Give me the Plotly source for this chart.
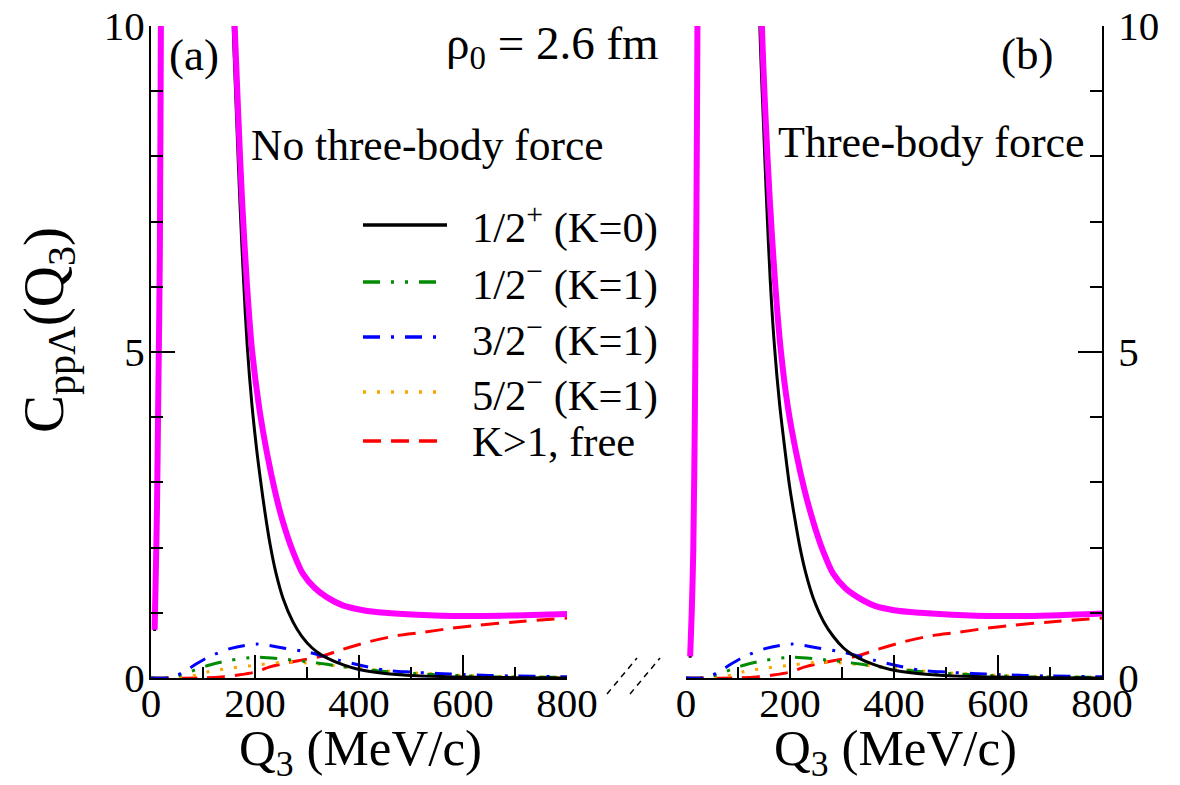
import plotly.graph_objects as go

W, H = 1180, 785

# ---------------- data ----------------
# panel (a): no three-body force
q_tot_a = [7, 9, 11.5, 14, 17, 19, 22, 30, 60, 100, 140, 161, 168, 175, 184, 194, 208, 223, 238, 252, 263, 273, 292, 315, 338, 370, 408, 450, 512, 600, 700, 800]
c_tot_a = [0.74, 1.5, 2.6, 4.3, 6.5, 10, 15, 25, 45, 35, 16, 10, 8.6, 7.35, 6.1, 5.05, 4.15, 3.45, 2.88, 2.44, 2.16, 1.94, 1.6, 1.38, 1.24, 1.11, 1.04, 1.0, 0.97, 0.95, 0.96, 0.98]
q_k0_a = [7, 9, 11.5, 14, 17, 19, 22, 30, 60, 100, 140, 158, 165, 171, 178, 185, 194, 204, 212, 219, 229, 240, 254, 273, 290, 310, 325, 338, 370, 400, 450, 500, 600, 700, 800]
c_k0_a = [0.72, 1.45, 2.55, 4.2, 6.4, 9.8, 14.8, 25, 45, 35, 16.5, 10, 8.5, 7.3, 6.1, 5.1, 4.2, 3.45, 2.95, 2.55, 2.05, 1.62, 1.22, 0.86, 0.64, 0.46, 0.37, 0.31, 0.2, 0.13, 0.07, 0.04, 0.015, 0.005, 0.0]

# panel (b): three-body force
q_tot_b = [8, 11, 14, 17, 20, 22, 26, 40, 80, 120, 146, 153, 161, 171, 182, 196, 212, 228, 243, 254, 264, 283, 306, 330, 362, 400, 450, 512, 600, 700, 800]
c_tot_b = [0.33, 1.0, 1.96, 4.0, 7.0, 10, 16, 30, 40, 20, 10, 8.6, 7.35, 6.1, 5.05, 4.15, 3.45, 2.88, 2.44, 2.16, 1.94, 1.6, 1.38, 1.24, 1.11, 1.04, 1.0, 0.97, 0.95, 0.96, 0.99]
q_k0_b = [8, 11, 14, 17, 20, 22, 26, 40, 80, 120, 142, 149, 155, 162, 170, 180, 191, 199, 207, 218, 230, 245, 265, 283, 303, 318, 331, 363, 393, 445, 495, 600, 700, 800]
c_k0_b = [0.31, 0.97, 1.9, 3.9, 6.9, 9.8, 15.8, 30, 40, 20, 10, 8.5, 7.3, 6.1, 5.1, 4.2, 3.45, 2.95, 2.55, 2.05, 1.62, 1.22, 0.86, 0.64, 0.46, 0.37, 0.31, 0.2, 0.13, 0.07, 0.04, 0.014, 0.004, 0.0]

# K=1 and K>1 components (same in both panels)
q_c = [0, 30, 50, 70, 90, 113, 152, 204, 254, 300, 338, 363, 400, 450, 500, 550, 600, 650, 700, 800]
c_half_m = [0, 0, 0.03, 0.08, 0.14, 0.2, 0.27, 0.32, 0.29, 0.25, 0.21, 0.18, 0.14, 0.1, 0.07, 0.05, 0.035, 0.02, 0.015, 0.01]
c_3half_m = [0, 0, 0.04, 0.13, 0.23, 0.33, 0.45, 0.52, 0.46, 0.4, 0.32, 0.27, 0.2, 0.12, 0.09, 0.07, 0.055, 0.04, 0.03, 0.02]
c_5half_m = [0, 0, 0.0, 0.02, 0.05, 0.1, 0.15, 0.2, 0.24, 0.23, 0.2, 0.18, 0.15, 0.11, 0.08, 0.06, 0.04, 0.03, 0.02, 0.01]
q_free = [0, 100, 140, 171, 200, 229, 261, 300, 331, 369, 421, 473, 523, 575, 630, 700, 800]
c_free = [0, 0.0, 0.02, 0.05, 0.09, 0.17, 0.23, 0.29, 0.34, 0.44, 0.56, 0.65, 0.7, 0.76, 0.81, 0.86, 0.92]

legend_labels = ["1/2<sup>+</sup> (K=0)", "1/2<sup>\u2212</sup> (K=1)", "3/2<sup>\u2212</sup> (K=1)",
                 "5/2<sup>\u2212</sup> (K=1)", "K>1, free"]
x_ticks = [0, 200, 400, 600, 800]
y_ticks = [0, 5, 10]

# ---------------- styles ----------------
FONT = "Times New Roman, Liberation Serif, Tinos, serif"
MAG = "#ff00ff"
styles = [  # colour, dash
    ("#000000", "solid"),
    ("#008b00", "17px,11px,3px,11px,3px,11px"),
    ("#0000ff", "17px,11px,3px,11px"),
    ("#ffa500", "3px,11px"),
    ("#ff0000", "18px,10px"),
]

def px(x):
    return x / W

def py(y):
    return 1 - y / H

fig = go.Figure()

def add_panel(xa, ya, q_tot, c_tot, q_k0, c_k0):
    comps = [(q_free, c_free, 4), (q_c, c_5half_m, 3), (q_c, c_half_m, 1), (q_c, c_3half_m, 2)]
    for qq, cc, i in comps:
        fig.add_trace(go.Scatter(x=qq, y=cc, mode="lines", xaxis=xa, yaxis=ya,
                                 line=dict(color=styles[i][0], dash=styles[i][1], width=3,
                                           shape="spline", smoothing=0.8),
                                 showlegend=False, hoverinfo="skip"))
    fig.add_trace(go.Scatter(x=q_k0, y=c_k0, mode="lines", xaxis=xa, yaxis=ya,
                             line=dict(color="#000000", width=3, shape="spline", smoothing=0.8),
                             showlegend=False))
    fig.add_trace(go.Scatter(x=q_tot, y=c_tot, mode="lines", xaxis=xa, yaxis=ya,
                             line=dict(color=MAG, width=6, shape="spline", smoothing=0.8),
                             showlegend=False))

add_panel("x", "y", q_tot_a, c_tot_a, q_k0_a, c_k0_a)
add_panel("x2", "y2", q_tot_b, c_tot_b, q_k0_b, c_k0_b)

ax_common = dict(showline=True, linecolor="black", linewidth=2, ticks="inside",
                 tickcolor="black", tickwidth=2, showgrid=False, zeroline=False,
                 automargin=False,
                 tickfont=dict(family=FONT, size=41, color="black"))
xcommon = dict(ax_common, range=[0, 800], tickvals=x_ticks, ticklen=23, ticklabelstandoff=-12,
               minor=dict(dtick=100, ticks="inside", ticklen=11, tickwidth=2, tickcolor="black", showgrid=False))
ycommon = dict(ax_common, range=[0, 10], tickvals=y_ticks, ticklen=24,
               minor=dict(dtick=1, ticks="inside", ticklen=12, tickwidth=2, tickcolor="black", showgrid=False))

fig.update_layout(
    template="none",
    width=W, height=H, margin=dict(l=0, r=0, t=0, b=0, pad=0, autoexpand=False),
    font=dict(family=FONT, color="black"),
    paper_bgcolor="white", plot_bgcolor="white", showlegend=False,
    xaxis=dict(xcommon, domain=[px(151), px(567)], anchor="y"),
    yaxis=dict(ycommon, domain=[py(678), py(26)], anchor="x", ticklabelstandoff=-4),
    xaxis2=dict(xcommon, domain=[px(686), px(1102)], anchor="y2"),
    yaxis2=dict(ycommon, domain=[py(678), py(26)], anchor="x2", side="right", ticklabelstandoff=6),
)

shapes = []
annotations = []
# legend (manual)
leg_y = [225, 282, 337, 392, 441]
for (col, dash), yy, lab in zip(styles, leg_y, legend_labels):
    shapes.append(dict(type="line", xref="paper", yref="paper", x0=px(363), x1=px(447),
                       y0=py(yy), y1=py(yy), line=dict(color=col, dash=dash, width=3.5)))
    annotations.append(dict(xref="paper", yref="paper", x=px(470), y=py(yy), text=lab,
                            showarrow=False, xanchor="left", yanchor="middle",
                            font=dict(family=FONT, size=42.5, color="black")))

# axis break marks
for x0 in (607, 630):
    shapes.append(dict(type="line", xref="paper", yref="paper", x0=px(x0), x1=px(x0 + 30),
                       y0=py(694), y1=py(658), line=dict(color="black", width=1.5, dash="6px,5px")))

def note(x, y, text, size=42, anchor="center", angle=0):
    annotations.append(dict(xref="paper", yref="paper", x=px(x), y=py(y), text=text,
                            showarrow=False, xanchor=anchor, yanchor="middle", textangle=angle,
                            font=dict(family=FONT, size=size, color="black")))

note(194, 55, "(a)", 45)
note(1027, 54, "(b)", 45)
note(552, 47, "\u03c1<sub>0</sub> = 2.6 fm", 47)
note(427, 145, "No three-body force", 43.5)
note(931, 143, "Three-body force", 44)
note(360, 752, "Q<sub>3</sub> (MeV/c)", 51)
note(895, 752, "Q<sub>3</sub> (MeV/c)", 51)
note(48, 330, "C<sub>pp\u039b</sub>(Q<sub>3</sub>)", 57, angle=-90)

fig.update_layout(shapes=shapes, annotations=annotations)
fig.write_html("out.html")
